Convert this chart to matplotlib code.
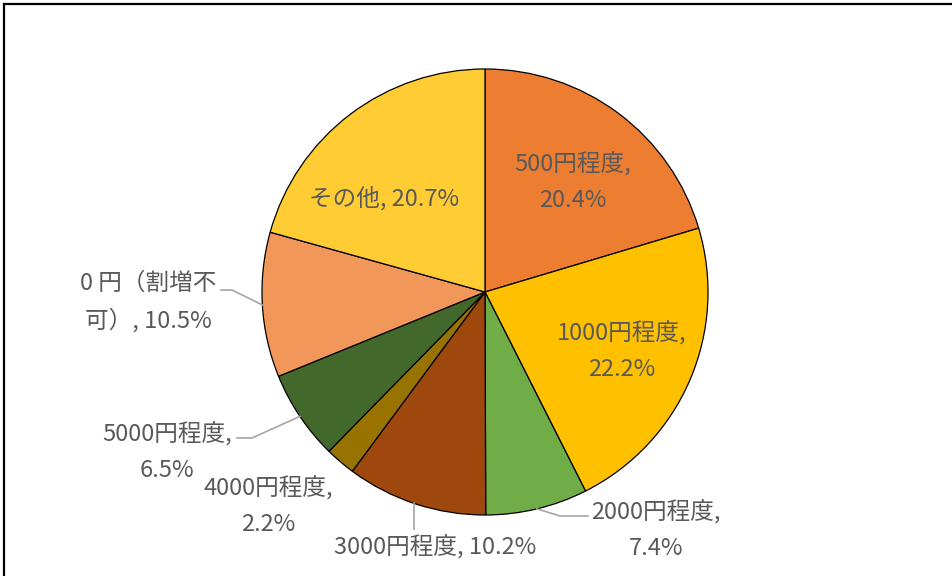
import numpy as np
import matplotlib
matplotlib.use('Agg')
import matplotlib.pyplot as plt
from matplotlib.lines import Line2D

plt.rcParams['font.family'] = ['Noto Sans CJK JP', 'DejaVu Sans']

# data (clockwise from 12 o'clock)
categories = ['500円程度', '1000円程度', '2000円程度', '3000円程度',
              '4000円程度', '5000円程度', '0 円（割増不可）', 'その他']
shares = [20.4, 22.2, 7.4, 10.2, 2.2, 6.5, 10.5, 20.7]
colors = ['#ED7D31', '#FFC000', '#70AD47', '#9E480E',
          '#997300', '#43682B', '#F1975A', '#FFCD33']

# label text as drawn (line breaks like the original)
label_texts = ['500円程度,\n20.4%', '1000円程度,\n22.2%', '2000円程度,\n7.4%',
               '3000円程度, 10.2%', '4000円程度,\n2.2%', '5000円程度,\n6.5%',
               '0 円（割増不\n可）, 10.5%', 'その他, 20.7%']

# layout in pixels (y measured from top)
W, H = 952, 576
cx, cy, R = 485, 292, 223
label_pos = [(573, 182), (622, 351), (656, 530), (435, 547),
             (268, 506), (167, 452), (148, 302), (384, 198)]
# leader lines: knee / end points for outside labels
leaders = {
    2: [(560, 516), (588, 516)],
    3: [(414, 529)],
    5: [(252, 438), (237, 438)],
    6: [(232, 290), (221, 290)],
}

fig = plt.figure(figsize=(W / 100, H / 100), dpi=100)
ax = fig.add_axes([0, 0, 1, 1])

wedges, _ = ax.pie(shares, colors=colors, startangle=90, counterclock=False,
                   center=(cx, H - cy), radius=R,
                   wedgeprops=dict(edgecolor='black', linewidth=0.9))
ax.set_xlim(0, W)
ax.set_ylim(0, H)
ax.set_aspect('equal')
ax.axis('off')

for i, txt in enumerate(label_texts):
    x, y = label_pos[i]
    ax.text(x, H - y, txt, ha='center', va='center', fontsize=17,
            color='#595959', linespacing=1.65)

# leader lines start at the middle of the wedge arc
for i, pts in leaders.items():
    w = wedges[i]
    mid = np.deg2rad((w.theta1 + w.theta2) / 2)
    if i == 3:
        sx = pts[0][0]
        sy = H - cy - np.sqrt(R ** 2 - (sx - cx) ** 2)
    else:
        sx = cx + R * np.cos(mid)
        sy = H - cy + R * np.sin(mid)
    xs = [sx] + [p[0] for p in pts]
    ys = [sy] + [H - p[1] for p in pts]
    ax.plot(xs, ys, color='#A6A6A6', linewidth=1.2)

# chart frame (top and left edges visible)
fig.add_artist(Line2D([4 / W, 1], [1 - 4 / H, 1 - 4 / H], color='black',
                      linewidth=1.6, transform=fig.transFigure))
fig.add_artist(Line2D([4 / W, 4 / W], [0, 1 - 4 / H], color='black',
                      linewidth=1.6, transform=fig.transFigure))

fig.savefig('out.png', dpi=100)
